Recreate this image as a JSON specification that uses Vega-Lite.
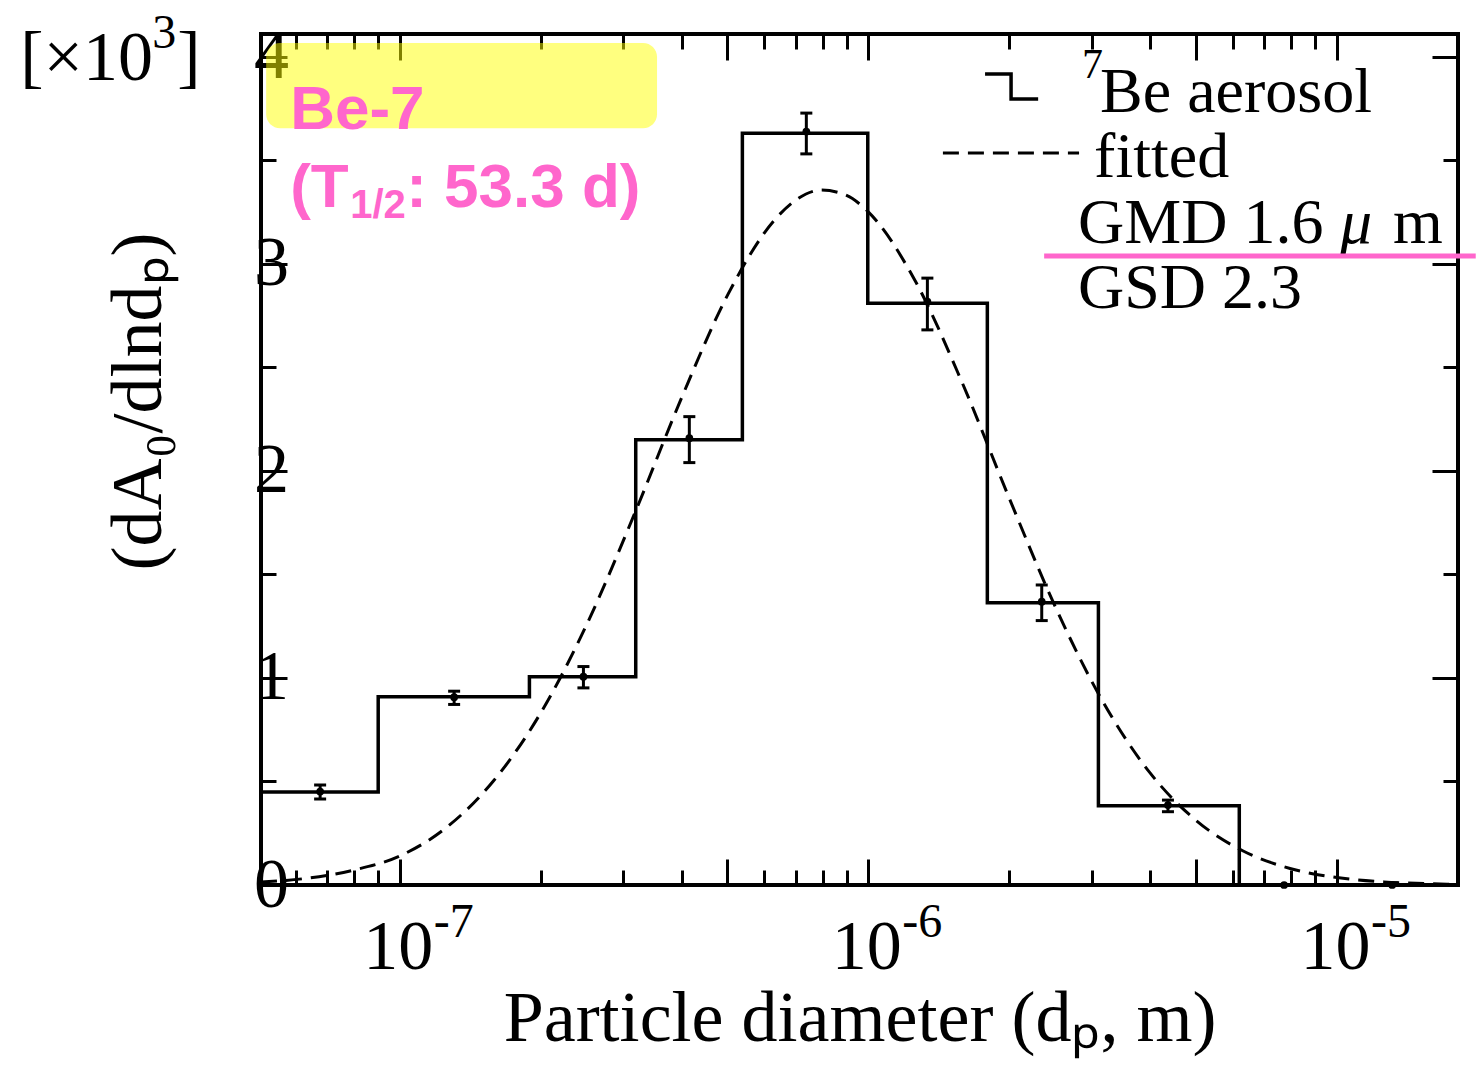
{
  "$schema": "https://vega.github.io/schema/vega-lite/v6.json",
  "width": 1197,
  "height": 851,
  "autosize": "none",
  "padding": {"left": 261, "top": 34, "right": 18, "bottom": 183},
  "background": "white",
  "config": {
    "view": {"stroke": "black", "strokeWidth": 4},
    "axis": {"domain": false, "grid": false, "tickColor": "black", "labelColor": "black", "titleColor": "black", "labelFont": "Liberation Serif", "titleFont": "Liberation Serif", "titleFontWeight": "normal", "labelFlush": false, "labelOverlap": false}
  },
  "datasets": {
    "hist": [
      {"x": 5.06e-8, "y": 0.449},
      {"x": 9.0e-8, "y": 0.909},
      {"x": 1.892e-7, "y": 1.006},
      {"x": 3.19e-7, "y": 2.150},
      {"x": 5.387e-7, "y": 3.631},
      {"x": 9.975e-7, "y": 2.810},
      {"x": 1.795e-6, "y": 1.363},
      {"x": 3.098e-6, "y": 0.383},
      {"x": 6.19e-6, "y": 0},
      {"x": 1.813e-5, "y": 0}
    ],
    "pts": [
      {"x": 6.766e-8, "y": 0.451, "lo": 0.415, "hi": 0.483},
      {"x": 1.307e-7, "y": 0.907, "lo": 0.872, "hi": 0.936},
      {"x": 2.467e-7, "y": 1.006, "lo": 0.952, "hi": 1.055},
      {"x": 4.151e-7, "y": 2.158, "lo": 2.04, "hi": 2.262},
      {"x": 7.376e-7, "y": 3.639, "lo": 3.531, "hi": 3.728},
      {"x": 1.337e-6, "y": 2.818, "lo": 2.681, "hi": 2.931},
      {"x": 2.345e-6, "y": 1.368, "lo": 1.277, "hi": 1.449},
      {"x": 4.36e-6, "y": 0.386, "lo": 0.354, "hi": 0.41},
      {"x": 7.715e-6, "y": 0, "lo": 0, "hi": 0},
      {"x": 1.312e-5, "y": 0, "lo": 0, "hi": 0.01}
    ],
    "fit": [
      {"x": 5.06e-8, "y": 0.014},
      {"x": 6.31e-8, "y": 0.032},
      {"x": 7.943e-8, "y": 0.071},
      {"x": 1e-7, "y": 0.140},
      {"x": 1.259e-7, "y": 0.278},
      {"x": 1.585e-7, "y": 0.502},
      {"x": 1.995e-7, "y": 0.827},
      {"x": 2.512e-7, "y": 1.262},
      {"x": 3.162e-7, "y": 1.786},
      {"x": 3.981e-7, "y": 2.344},
      {"x": 5.012e-7, "y": 2.850},
      {"x": 6.31e-7, "y": 3.212},
      {"x": 7.079e-7, "y": 3.315},
      {"x": 7.943e-7, "y": 3.356},
      {"x": 8.913e-7, "y": 3.334},
      {"x": 1e-6, "y": 3.251},
      {"x": 1.259e-6, "y": 2.918},
      {"x": 1.585e-6, "y": 2.428},
      {"x": 1.995e-6, "y": 1.873},
      {"x": 2.512e-6, "y": 1.339},
      {"x": 3.162e-6, "y": 0.888},
      {"x": 3.981e-6, "y": 0.545},
      {"x": 5.012e-6, "y": 0.311},
      {"x": 6.31e-6, "y": 0.164},
      {"x": 7.943e-6, "y": 0.080},
      {"x": 1e-5, "y": 0.036},
      {"x": 1.259e-5, "y": 0.015},
      {"x": 1.585e-5, "y": 0.006},
      {"x": 1.813e-5, "y": 0.003}
    ],
    "legendText": [
      {"x": 3.123e-6, "y": 3.733, "text": "Be aerosol"},
      {"x": 3.033e-6, "y": 3.419, "text": "fitted"},
      {"x": 2.803e-6, "y": 3.1005, "text": "GMD 1.6"},
      {"x": 1.3177e-5, "y": 3.1005, "text": "m"},
      {"x": 2.803e-6, "y": 2.787, "text": "GSD 2.3"}
    ],
    "legendItalic": [{"x": 1.015e-5, "y": 3.1005, "text": "μ"}],
    "sup7": [{"x": 2.858e-6, "y": 3.897, "text": "7"}],
    "scaleNote": [
      {"x": 1.55e-8, "y": 3.888, "text": "[×10"},
      {"x": 3.351e-8, "y": 3.888, "text": "]"}
    ],
    "scaleSup": [{"x": 2.965e-8, "y": 4.042, "text": "3"}],
    "xSup": [
      {"x": 1e-7, "y": 0, "text": "-7"},
      {"x": 1e-6, "y": 0, "text": "-6"},
      {"x": 1e-5, "y": 0, "text": "-5"}
    ],
    "pinkBig": [
      {"x": 5.84e-8, "y": 3.651, "text": "Be-7"},
      {"x": 5.84e-8, "y": 3.274, "text": "(T"},
      {"x": 1.0325e-7, "y": 3.274, "text": ": 53.3 d)"}
    ],
    "pinkSub": [{"x": 7.842e-8, "y": 3.221, "text": "1/2"}],
    "stepKey": [
      {"x": 1.775e-6, "y": 3.917},
      {"x": 2.017e-6, "y": 3.796},
      {"x": 2.304e-6, "y": 3.796}
    ],
    "dashKey": [
      {"x": 1.443e-6, "y": 3.535},
      {"x": 2.817e-6, "y": 3.535}
    ],
    "pinkRule": [{"x": 2.373e-6, "x2": 1.978e-5, "y": 3.038}],
    "highlight": [{"x": 5.19e-8, "x2": 3.542e-7, "y": 4.066, "y2": 3.655}]
  },
  "layer": [
    {
      "data": {"name": "hist"},
      "mark": {"type": "line", "interpolate": "step-after", "color": "black", "strokeWidth": 3.5},
      "encoding": {
        "x": {"field": "x", "type": "quantitative", "scale": {"type": "log", "domain": [5.06e-8, 1.813e-5], "nice": false},
          "axis": {"orient": "bottom", "values": [1e-7, 5e-7, 1e-6, 5e-6, 1e-5], "tickSize": -26, "tickWidth": 3,
            "labelExpr": "(datum.value > 9e-8 && datum.value < 1.1e-7) || (datum.value > 9e-7 && datum.value < 1.1e-6) || (datum.value > 9e-6 && datum.value < 1.1e-5) ? '10' : ''",
            "labelFontSize": 70, "labelAlign": "center", "labelOffset": -2, "labelBaseline": "alphabetic", "labelPadding": 109,
            "title": "Particle diameter (dₚ, m)", "titleFontSize": 72, "titleBaseline": "alphabetic", "titleY": 155}},
        "y": {"field": "y", "type": "quantitative", "scale": {"domain": [0, 4.11], "nice": false, "zero": false},
          "axis": {"orient": "left", "values": [0, 1, 2, 3, 4], "tickSize": -26, "tickWidth": 3,
            "labelFontSize": 70, "labelAlign": "center", "labelBaseline": "middle", "labelPadding": 16,
            "title": "(dA₀/dlndₚ)", "titleFontSize": 72, "titleAngle": 270, "titleBaseline": "alphabetic", "titleAlign": "center", "titleX": -101, "titleY": 367}}
      }
    },
    {
      "data": {"name": "fit"},
      "mark": {"type": "line", "interpolate": "monotone", "color": "black", "strokeWidth": 3, "strokeDash": [16, 9], "clip": true},
      "encoding": {
        "x": {"field": "x", "type": "quantitative", "scale": {"type": "log", "domain": [5.06e-8, 1.813e-5], "nice": false},
          "axis": {"orient": "bottom", "values": [6e-8, 7e-8, 8e-8, 9e-8, 2e-7, 3e-7, 4e-7, 6e-7, 7e-7, 8e-7, 9e-7, 2e-6, 3e-6, 4e-6, 6e-6, 7e-6, 8e-6, 9e-6], "tickSize": -15, "tickWidth": 3, "labels": false, "title": null}},
        "y": {"field": "y", "type": "quantitative", "scale": {"domain": [0, 4.11], "nice": false, "zero": false},
          "axis": {"orient": "left", "values": [0.5, 1.5, 2.5, 3.5], "tickSize": -15, "tickWidth": 3, "labels": false, "title": null}}
      }
    },
    {
      "data": {"name": "pts"},
      "mark": {"type": "rule", "color": "black", "strokeWidth": 3},
      "encoding": {
        "x": {"field": "x", "type": "quantitative", "scale": {"type": "log", "domain": [5.06e-8, 1.813e-5], "nice": false},
          "axis": {"orient": "top", "values": [1e-7, 5e-7, 1e-6, 5e-6, 1e-5], "tickSize": -26, "tickWidth": 3, "labels": false, "title": null}},
        "y": {"field": "lo", "type": "quantitative", "scale": {"domain": [0, 4.11], "nice": false, "zero": false},
          "axis": {"orient": "right", "values": [0, 1, 2, 3, 4], "tickSize": -26, "tickWidth": 3, "labels": false, "title": null}},
        "y2": {"field": "hi"}
      }
    },
    {
      "data": {"name": "pts"},
      "mark": {"type": "point", "filled": true, "color": "black", "size": 60, "opacity": 1},
      "encoding": {
        "x": {"field": "x", "type": "quantitative", "scale": {"type": "log", "domain": [5.06e-8, 1.813e-5], "nice": false},
          "axis": {"orient": "top", "values": [6e-8, 7e-8, 8e-8, 9e-8, 2e-7, 3e-7, 4e-7, 6e-7, 7e-7, 8e-7, 9e-7, 2e-6, 3e-6, 4e-6, 6e-6, 7e-6, 8e-6, 9e-6], "tickSize": -15, "tickWidth": 3, "labels": false, "title": null}},
        "y": {"field": "y", "type": "quantitative", "scale": {"domain": [0, 4.11], "nice": false, "zero": false},
          "axis": {"orient": "right", "values": [0.5, 1.5, 2.5, 3.5], "tickSize": -15, "tickWidth": 3, "labels": false, "title": null}}
      }
    },
    {
      "data": {"name": "pts"},
      "mark": {"type": "tick", "orient": "horizontal", "color": "black", "size": 12, "thickness": 3, "opacity": 1},
      "encoding": {
        "x": {"field": "x", "type": "quantitative", "axis": null},
        "y": {"field": "lo", "type": "quantitative", "axis": null}
      }
    },
    {
      "data": {"name": "pts"},
      "mark": {"type": "tick", "orient": "horizontal", "color": "black", "size": 12, "thickness": 3, "opacity": 1},
      "encoding": {
        "x": {"field": "x", "type": "quantitative", "axis": null},
        "y": {"field": "hi", "type": "quantitative", "axis": null}
      }
    },
    {
      "data": {"name": "highlight"},
      "mark": {"type": "rect", "fill": "#ffff00", "opacity": 0.5, "cornerRadius": 14},
      "encoding": {
        "x": {"field": "x", "type": "quantitative", "axis": null},
        "x2": {"field": "x2"},
        "y": {"field": "y", "type": "quantitative", "axis": null},
        "y2": {"field": "y2"}
      }
    },
    {
      "data": {"name": "pinkBig"},
      "mark": {"type": "text", "font": "Liberation Sans", "fontWeight": "bold", "fontSize": 62, "color": "#ff66cc", "align": "left", "baseline": "alphabetic"},
      "encoding": {
        "x": {"field": "x", "type": "quantitative", "axis": null},
        "y": {"field": "y", "type": "quantitative", "axis": null},
        "text": {"field": "text"}
      }
    },
    {
      "data": {"name": "pinkSub"},
      "mark": {"type": "text", "font": "Liberation Sans", "fontWeight": "bold", "fontSize": 40, "color": "#ff66cc", "align": "left", "baseline": "alphabetic"},
      "encoding": {
        "x": {"field": "x", "type": "quantitative", "axis": null},
        "y": {"field": "y", "type": "quantitative", "axis": null},
        "text": {"field": "text"}
      }
    },
    {
      "data": {"name": "legendText"},
      "mark": {"type": "text", "font": "Liberation Serif", "fontSize": 64, "color": "black", "align": "left", "baseline": "alphabetic"},
      "encoding": {
        "x": {"field": "x", "type": "quantitative", "axis": null},
        "y": {"field": "y", "type": "quantitative", "axis": null},
        "text": {"field": "text"}
      }
    },
    {
      "data": {"name": "legendItalic"},
      "mark": {"type": "text", "font": "Liberation Serif", "fontStyle": "italic", "fontSize": 64, "color": "black", "align": "left", "baseline": "alphabetic"},
      "encoding": {
        "x": {"field": "x", "type": "quantitative", "axis": null},
        "y": {"field": "y", "type": "quantitative", "axis": null},
        "text": {"field": "text"}
      }
    },
    {
      "data": {"name": "sup7"},
      "mark": {"type": "text", "font": "Liberation Serif", "fontSize": 42, "color": "black", "align": "left", "baseline": "alphabetic"},
      "encoding": {
        "x": {"field": "x", "type": "quantitative", "axis": null},
        "y": {"field": "y", "type": "quantitative", "axis": null},
        "text": {"field": "text"}
      }
    },
    {
      "data": {"name": "scaleNote"},
      "mark": {"type": "text", "font": "Liberation Serif", "fontSize": 70, "color": "black", "align": "left", "baseline": "alphabetic"},
      "encoding": {
        "x": {"field": "x", "type": "quantitative", "axis": null},
        "y": {"field": "y", "type": "quantitative", "axis": null},
        "text": {"field": "text"}
      }
    },
    {
      "data": {"name": "scaleSup"},
      "mark": {"type": "text", "font": "Liberation Serif", "fontSize": 48, "color": "black", "align": "left", "baseline": "alphabetic"},
      "encoding": {
        "x": {"field": "x", "type": "quantitative", "axis": null},
        "y": {"field": "y", "type": "quantitative", "axis": null},
        "text": {"field": "text"}
      }
    },
    {
      "data": {"name": "xSup"},
      "mark": {"type": "text", "font": "Liberation Serif", "fontSize": 48, "color": "black", "align": "left", "baseline": "alphabetic", "dx": 34, "dy": 52},
      "encoding": {
        "x": {"field": "x", "type": "quantitative", "axis": null},
        "y": {"field": "y", "type": "quantitative", "axis": null},
        "text": {"field": "text"}
      }
    },
    {
      "data": {"name": "stepKey"},
      "mark": {"type": "line", "interpolate": "step-after", "color": "black", "strokeWidth": 3.5},
      "encoding": {
        "x": {"field": "x", "type": "quantitative", "axis": null},
        "y": {"field": "y", "type": "quantitative", "axis": null}
      }
    },
    {
      "data": {"name": "dashKey"},
      "mark": {"type": "line", "color": "black", "strokeWidth": 3, "strokeDash": [16, 9]},
      "encoding": {
        "x": {"field": "x", "type": "quantitative", "axis": null},
        "y": {"field": "y", "type": "quantitative", "axis": null}
      }
    },
    {
      "data": {"name": "pinkRule"},
      "mark": {"type": "rule", "color": "#ff66cc", "strokeWidth": 5},
      "encoding": {
        "x": {"field": "x", "type": "quantitative", "axis": null},
        "x2": {"field": "x2"},
        "y": {"field": "y", "type": "quantitative", "axis": null}
      }
    }
  ],
  "resolve": {"axis": {"x": "independent", "y": "independent"}}
}
